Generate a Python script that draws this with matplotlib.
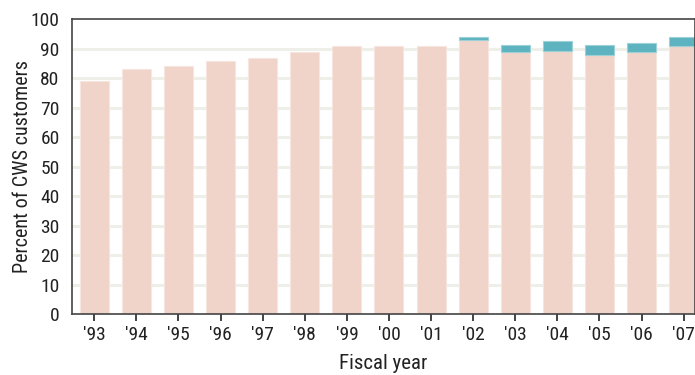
import matplotlib
matplotlib.use("Agg")
import matplotlib.pyplot as plt
from matplotlib import font_manager

years = ["'93", "'94", "'95", "'96", "'97", "'98", "'99", "'00", "'01", "'02", "'03", "'04", "'05", "'06", "'07"]
base = [79, 83, 84, 86, 87, 89, 91, 91, 91, 93, 89, 89.3, 88, 88.8, 91]
extra = [0, 0, 0, 0, 0, 0, 0, 0, 0, 1, 2.3, 3.3, 3.4, 3.3, 3.0]
yticks = list(range(0, 101, 10))

names = {f.name for f in font_manager.fontManager.ttflist}
fam = [n for n in ["Roboto Condensed", "Liberation Sans Narrow", "Roboto"] if n in names] + ["DejaVu Sans"]
plt.rcParams['font.family'] = fam[:1] + ["DejaVu Sans"]

fig = plt.figure(figsize=(6.95, 3.75), dpi=100)
ax = fig.add_axes([72/695, 1-314/375, 1-72/695, (314-19.3)/375])

x = list(range(len(years)))
pink = "#f0d3c9"
teal = "#5db3bf"
ax.bar(x, base, width=0.69, color=pink, edgecolor="#f7e6e0", linewidth=0.8, zorder=2)
tx = [xi for xi, e in zip(x, extra) if e > 0]
te = [e for e in extra if e > 0]
tb = [b for b, e in zip(base, extra) if e > 0]
ax.bar(tx, te, bottom=tb, width=0.69, color=teal, edgecolor="#9ed0d7", linewidth=0.8, zorder=2)

ax.set_xlim(-0.53, 14.27)
ax.set_ylim(0, 100)
ax.set_yticks(yticks)
for v in yticks[1:-1]:
    ax.axhline(v, color="#efefea", linewidth=2.2, zorder=1)

ax.set_xticks(x)
ax.set_xticklabels(years)
ax.tick_params(axis='y', length=0, pad=9, labelsize=14, colors="#222222")
ax.tick_params(axis='x', length=5, width=1.2, pad=4, labelsize=14, colors="#222222")
for s in ax.spines.values():
    s.set_color("#444444")
    s.set_linewidth(1.2)

ax.set_ylabel("Percent of CWS customers", fontsize=14.5, color="#222222")
ax.yaxis.set_label_coords((32 - 72) / 623, 0.5)
ax.set_xlabel("Fiscal year", fontsize=15, color="#222222", labelpad=7)

fig.savefig("out.png", dpi=100)
